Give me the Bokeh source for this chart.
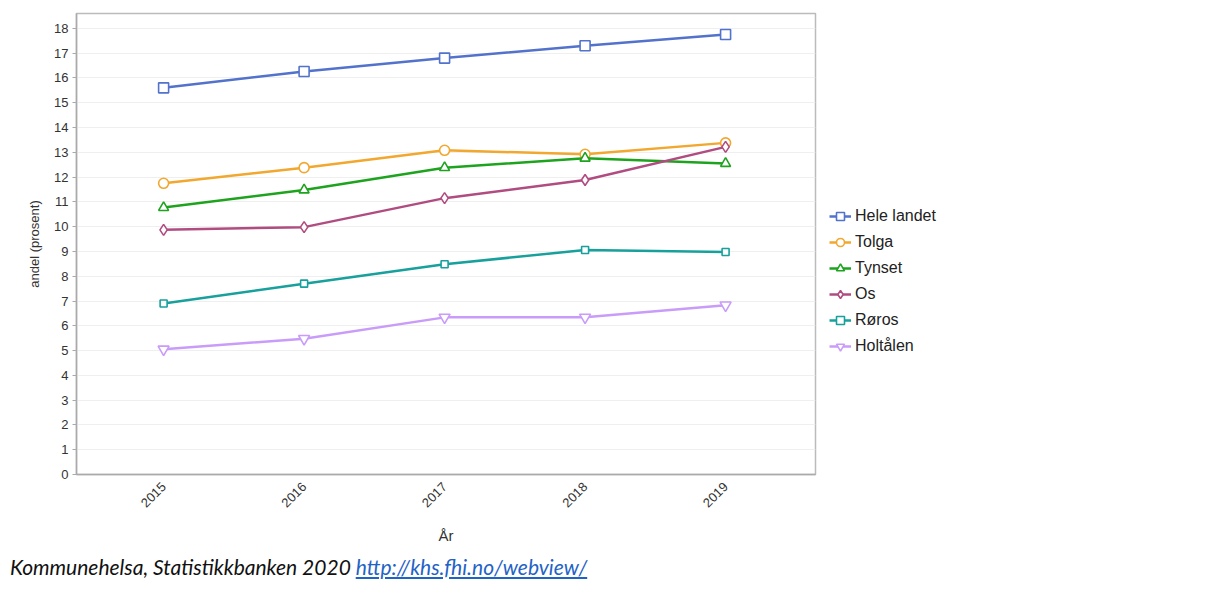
from math import pi
from bokeh.plotting import figure
from bokeh.models import Range1d, FixedTicker, Legend, LegendItem, Div
from bokeh.layouts import column
from bokeh.embed import file_html
from bokeh.resources import INLINE

years = [2015, 2016, 2017, 2018, 2019]
hele_landet = [15.6, 16.26, 16.8, 17.3, 17.75]
tolga = [11.75, 12.38, 13.08, 12.92, 13.38]
tynset = [10.77, 11.48, 12.38, 12.76, 12.55]
os_ = [9.87, 9.98, 11.15, 11.88, 13.22]
roros = [6.9, 7.7, 8.48, 9.06, 8.98]
holtalen = [5.05, 5.48, 6.34, 6.34, 6.83]

series = [
    ("Hele landet", hele_landet, "#5272CC", "square", 10),
    ("Tolga", tolga, "#F2A72E", "circle", 10),
    ("Tynset", tynset, "#1EA31E", "triangle", 10),
    ("Os", os_, "#B04C80", "diamond", 11),
    ("Røros", roros, "#17A09C", "square", 7),
    ("Holtålen", holtalen, "#C99CF9", "inverted_triangle", 11),
]

FONT = "Liberation Sans"

p = figure(frame_width=739, frame_height=461, output_backend="svg", toolbar_location=None,
           x_range=Range1d(2014.38, 2019.64), y_range=Range1d(0, 18.6),
           min_border_left=76, min_border_right=10, min_border_top=13, min_border_bottom=70)

p.outline_line_color = "#BBBBBB"
p.outline_line_width = 1.5
p.xgrid.grid_line_color = None
p.ygrid.grid_line_color = "#EFEFEF"
p.ygrid.grid_line_width = 1
p.yaxis.ticker = FixedTicker(ticks=list(range(0, 19)))
p.xaxis.ticker = FixedTicker(ticks=years)

for ax in (p.xaxis[0], p.yaxis[0]):
    ax.axis_line_color = "#AAAAAA"
    ax.axis_line_width = 1.5
    ax.major_tick_line_color = "#AAAAAA"
    ax.minor_tick_line_color = None
    ax.major_label_text_font = FONT
    ax.major_label_text_font_size = "13px"
    ax.major_label_text_color = "#333333"
    ax.axis_label_text_font = FONT
    ax.axis_label_text_font_style = "normal"
    ax.axis_label_text_color = "#333333"

p.yaxis.major_tick_in = 0
p.yaxis.major_tick_out = 4
p.xaxis.major_tick_in = 0
p.xaxis.major_tick_out = 0
p.xaxis.major_label_orientation = pi / 4
p.xaxis.major_label_standoff = 10
p.yaxis.major_label_standoff = 4
p.yaxis.axis_label = "andel (prosent)"
p.yaxis.axis_label_text_font_size = "13px"
p.yaxis.axis_label_standoff = 9
p.xaxis.axis_label = "År"
p.xaxis.axis_label_text_font_size = "15px"
p.xaxis.axis_label_standoff = 13

items = []
for name, vals, color, marker, size in series:
    l = p.line(years, vals, line_color=color, line_width=2.5)
    s = p.scatter(years, vals, marker=marker, size=size, line_color=color,
                  line_width=1.6, fill_color="white")
    items.append(LegendItem(label=name, renderers=[l, s]))

legend = Legend(items=items, location=(14, 118), orientation="vertical")
legend.label_text_font = FONT
legend.label_text_font_size = "16px"
legend.label_text_color = "#222222"
legend.glyph_width = 22
legend.glyph_height = 20
legend.label_height = 20
legend.spacing = 6
legend.padding = 0
legend.margin = 0
legend.label_standoff = 4
legend.border_line_color = None
legend.background_fill_alpha = 0
p.add_layout(legend, "right")

footer = Div(text='<i>Kommunehelsa, Statistikkbanken 2020 '
                  '<a href="http://khs.fhi.no/webview/" style="color:#1F63C6;text-decoration:underline">'
                  'http://khs.fhi.no/webview/</a></i>',
             styles={"font-family": "Lato", "font-size": "21px",
                     "color": "#111111", "margin-left": "10px"}, width=800)

layout = column(p, footer, spacing=0)
open("out.html", "w").write(file_html(layout, INLINE))
